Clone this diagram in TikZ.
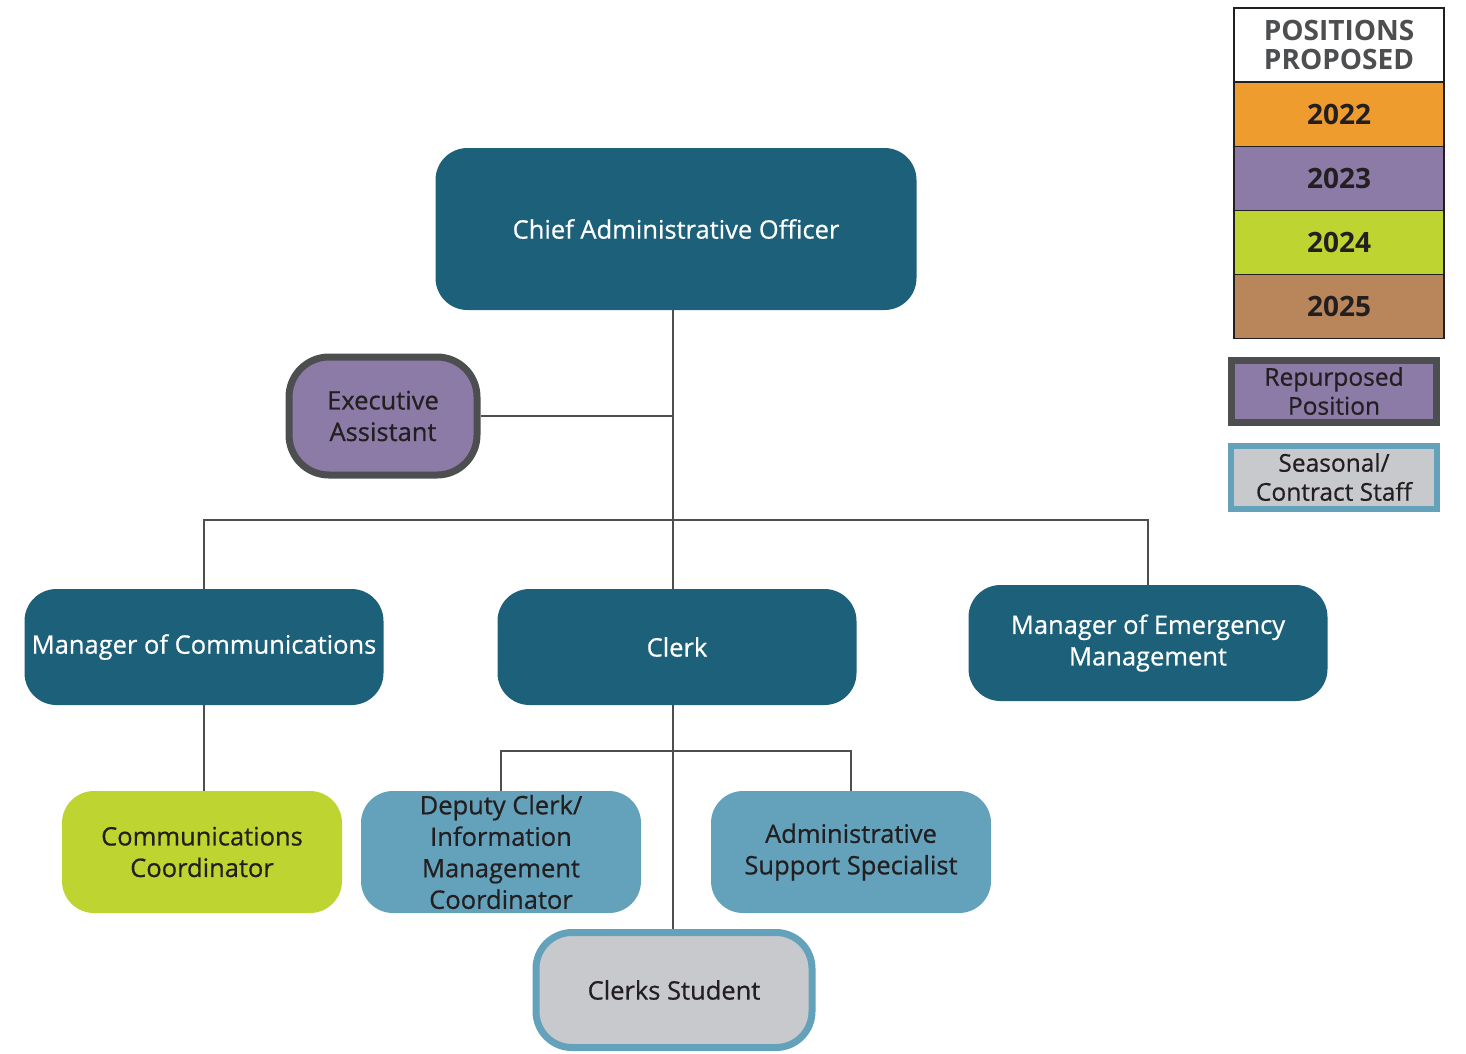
\documentclass[tikz,border=0pt]{standalone}
\usepackage{fontspec}
\setmainfont{Open Sans}
\newfontfamily\postfont[FakeBold=0.6]{Open Sans}
\usepackage{tikz}
\usetikzlibrary{positioning}
\definecolor{cteal}{HTML}{1C607A}
\definecolor{cpurple}{HTML}{8B7BA6}
\definecolor{cgreen}{HTML}{BED531}
\definecolor{cblue}{HTML}{64A2BC}
\definecolor{cgray}{HTML}{C8C9CC}
\definecolor{corange}{HTML}{EE9C2E}
\definecolor{cbrown}{HTML}{B8865A}
\definecolor{cdark}{HTML}{4D4E50}
\definecolor{ctext}{HTML}{231F20}
\tikzset{
  post/.style={rectangle, rounded corners=32pt, align=center, inner sep=0pt,
    font=\postfont\fontsize{25.5}{31.5}\selectfont, text=ctext},
  lead/.style={post, fill=cteal, text=white, minimum width=359pt, minimum height=116pt},
  staff/.style={post, fill=cblue, minimum width=280pt, minimum height=122pt},
  conn/.style={draw=cdark, line width=2pt},
  legbox/.style={rectangle, draw=ctext, line width=1.5pt, minimum width=210pt,
    minimum height=64pt, inner sep=0pt, font=\fontsize{28}{30}\selectfont\bfseries, text=ctext}
}
\begin{document}
\begin{tikzpicture}[x=1pt,y=-1pt]
\useasboundingbox (0,0) rectangle (1466,1053);

% top
\node[lead, minimum width=481pt, minimum height=162pt] (cao) at (676,229) {Chief Administrative Officer};
\node[post, fill=cpurple, draw=cdark, line width=7pt, rounded corners=40pt,
  minimum width=188pt, minimum height=118pt] (exec) at (383,416) {Executive\\Assistant};

% managers
\node[lead] (mcomm) at (204,647) {Manager of Communications};
\node[lead] (clerk) at (677,647) {Clerk};
\node[lead] (memerg) at (1148,643) {Manager of Emergency\\Management};

% staff
\node[staff, fill=cgreen] (ccoord) at (202,852) {Communications\\Coordinator};
\node[staff] (deputy) at (501,852) {Deputy Clerk/\\Information\\Management\\Coordinator};
\node[staff] (admin) at (851,852) {Administrative\\Support Specialist};
\node[post, fill=cgray, draw=cblue, line width=7pt, rounded corners=36pt,
  minimum width=276pt, minimum height=115pt] (student) at (674,990) {Clerks Student};

% connectors
\coordinate (trunk) at (673,310);
\coordinate (bus) at (673,520);
\coordinate (cbus) at (673,751);
\draw[conn] (trunk) -- (clerk.north -| trunk);
\draw[conn] (exec.east) -- (exec.east -| trunk);
\draw[conn] (mcomm.north) |- (bus) -| (memerg.north);
\draw[conn] (mcomm.south) -- (ccoord.north -| mcomm.south);
\draw[conn] (clerk.south -| cbus) -- (student.north -| cbus);
\draw[conn] (deputy.north) |- (cbus) -| (admin.north);

% legend
\node[legbox, fill=white, minimum height=74pt, text=cdark,
  font=\fontsize{28}{29}\selectfont\bfseries, align=center] (legtitle) at (1339,45) {POSITIONS\\PROPOSED};
\foreach \yr/\col/\yy in {2022/corange/114.5, 2023/cpurple/178.5, 2024/cgreen/242.5, 2025/cbrown/306.5}
  \node[legbox, fill=\col] (leg\yr) at (1339,\yy) {\yr};
\node[rectangle, fill=cpurple, draw=cdark, line width=7pt, minimum width=205pt, minimum height=62pt,
  inner sep=0pt, align=center, font=\postfont\fontsize{24.5}{29}\selectfont, text=ctext] (legrep) at (1334,391) {Repurposed\\Position};
\node[rectangle, fill=cgray, draw=cblue, line width=6pt, minimum width=206pt, minimum height=63pt,
  inner sep=0pt, align=center, font=\postfont\fontsize{24.5}{29}\selectfont, text=ctext] (legseas) at (1334,477) {Seasonal/\\Contract Staff};
\end{tikzpicture}
\end{document}
